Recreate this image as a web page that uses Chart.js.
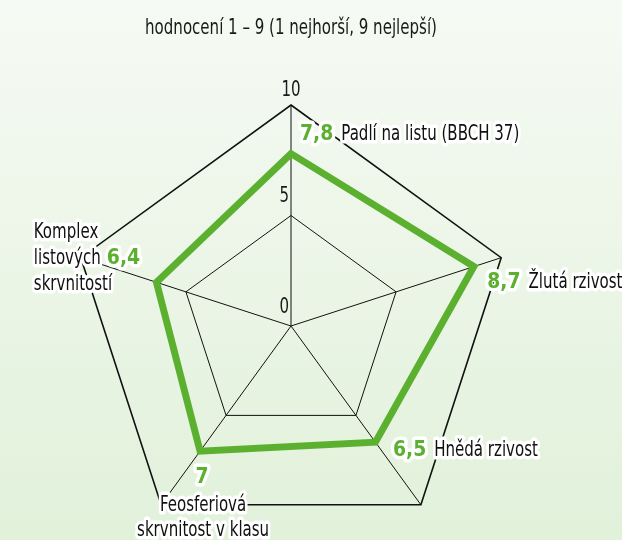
<!DOCTYPE html>
<html>
<head>
<meta charset="utf-8">
<script src="https://cdn.jsdelivr.net/npm/chart.js@4.4.0/dist/chart.umd.min.js"></script>
<style>
  html, body { margin: 0; padding: 0; width: 622px; height: 540px; overflow: hidden; }
  body { background: linear-gradient(to bottom, #f6faf4 0%, #e1f1da 100%); }
  canvas { display: block; }
</style>
</head>
<body>
<canvas id="chart" width="622" height="560"></canvas>
<script>
const categories = [
  ['Padlí na listu (BBCH 37)'],
  ['Žlutá rzivost'],
  ['Hnědá rzivost'],
  ['Feosferiová', 'skrvnitost v klasu'],
  ['Komplex', 'listových', 'skrvnitostí']
];
const values = [7.8, 8.7, 6.5, 7, 6.4];
const valueLabels = ['7,8', '8,7', '6,5', '7', '6,4'];
const tickValues = [0, 5, 10];
const title = 'hodnocení 1 – 9 (1 nejhorší, 9 nejlepší)';

const GREEN = '#5cb030';
const FONT = '"DejaVu Sans Condensed", "Liberation Sans Narrow", sans-serif';
const SX = 0.76;       // squeeze to look like a condensed face
const SX_VAL = 0.95;
const TEXT_FONT = '22px ' + FONT;
const VAL_FONT = 'bold 22px ' + FONT;

// draws squeezed text, returns its drawn width
function sText(ctx, text, x, y, color, align, halo, sx) {
  sx = sx || SX;
  ctx.save();
  ctx.translate(x, y);
  ctx.scale(sx, 1);
  ctx.textAlign = align || 'left';
  if (halo) {
    ctx.lineJoin = 'round';
    ctx.lineWidth = 7;
    ctx.strokeStyle = '#ffffff';
    ctx.strokeText(text, 0, 0);
  }
  ctx.fillStyle = color;
  ctx.fillText(text, 0, 0);
  const w = ctx.measureText(text).width * sx;
  ctx.restore();
  return w;
}

function inlineLabel(ctx, val, name, x, y) {
  ctx.font = VAL_FONT;
  const w = sText(ctx, val, x, y, GREEN, 'left', true, SX_VAL);
  ctx.font = TEXT_FONT;
  sText(ctx, name, x + w + 8, y, '#111', 'left', true);
}

const labelsPlugin = {
  id: 'labels',
  afterDatasetsDraw(chart) {
    const ctx = chart.ctx;
    const r = chart.scales.r;
    const R = r.drawingArea;
    const cx = r.xCenter, cy = r.yCenter;
    ctx.save();
    ctx.textBaseline = 'middle';

    // title
    ctx.font = TEXT_FONT;
    sText(ctx, title, cx, 28, '#1a1a1a', 'center', false);

    // tick labels
    tickValues.forEach(v => {
      const d = r.getDistanceFromCenterForValue(v);
      if (v === 10) {
        sText(ctx, String(v), cx, cy - d - 15, '#1a1a1a', 'center', false);
      } else {
        sText(ctx, String(v), cx - 2, cy - d - 19, '#1a1a1a', 'right', false);
      }
    });

    const p = i => r.getPointPosition(i, R);

    let a = p(0);
    inlineLabel(ctx, valueLabels[0], categories[0][0], a.x + 9, a.y + 29);
    a = p(1);
    inlineLabel(ctx, valueLabels[1], categories[1][0], a.x - 14, a.y + 25);
    a = p(2);
    inlineLabel(ctx, valueLabels[2], categories[2][0], a.x - 28, a.y - 55);

    // bottom-left: value above, name centered below
    a = p(3);
    ctx.font = VAL_FONT;
    sText(ctx, valueLabels[3], a.x + 41, a.y - 28, GREEN, 'center', true, SX_VAL);
    ctx.font = TEXT_FONT;
    categories[3].forEach((t, k) => sText(ctx, t, a.x + 42, a.y + k * 25, '#111', 'center', true));

    // left: three lines, value beside the middle one
    a = p(4);
    ctx.font = TEXT_FONT;
    categories[4].forEach((t, k) => sText(ctx, t, a.x - 47, a.y - 25 + k * 26, '#111', 'left', true));
    ctx.font = VAL_FONT;
    sText(ctx, valueLabels[4], a.x + 26, a.y + 1, GREEN, 'left', true, SX_VAL);

    ctx.restore();
  }
};

new Chart(document.getElementById('chart'), {
  type: 'radar',
  data: {
    labels: categories.map(c => c.join(' ')),
    datasets: [{
      data: values,
      borderColor: GREEN,
      borderWidth: 7,
      fill: false,
      pointRadius: 0,
      pointHoverRadius: 0,
      borderJoinStyle: 'miter'
    }]
  },
  options: {
    responsive: false,
    animation: false,
    layout: { padding: { left: 70, right: 110, top: 105, bottom: 13 } },
    plugins: { legend: { display: false }, tooltip: { enabled: false } },
    scales: {
      r: {
        min: 0,
        max: 10,
        ticks: { stepSize: 5, display: false },
        pointLabels: { display: false },
        grid: {
          color: '#111',
          lineWidth: c => (c.tick && c.tick.value === 10 ? 1.6 : 1)
        },
        angleLines: { color: '#111', lineWidth: 1 }
      }
    }
  },
  plugins: [labelsPlugin]
});
</script>
</body>
</html>
